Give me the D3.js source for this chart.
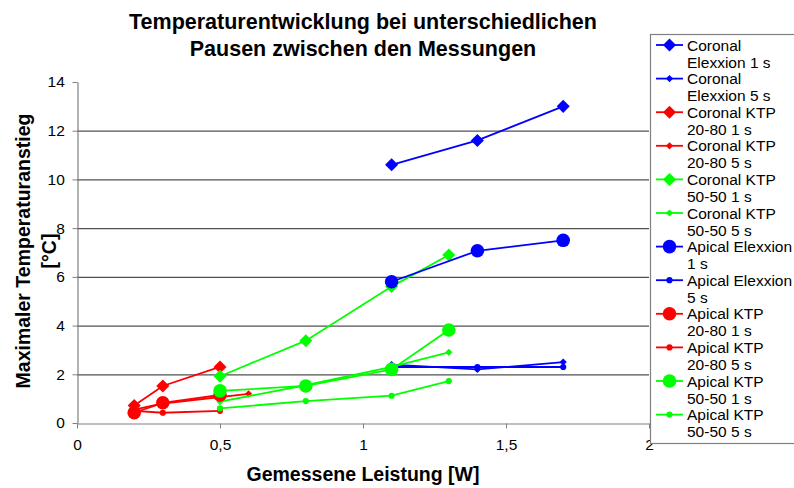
<!DOCTYPE html>
<html><head><meta charset="utf-8">
<script src="https://cdn.jsdelivr.net/npm/d3@7"></script>
<style>body{margin:0;background:#fff}svg{display:block;font-family:"Liberation Sans",Arial,sans-serif}</style>
</head><body><svg id="c" width="794" height="488"></svg>
<script>
const seriesNames = [
 ["Coronal","Elexxion 1 s"],["Coronal","Elexxion 5 s"],
 ["Coronal KTP","20-80 1 s"],["Coronal KTP","20-80 5 s"],
 ["Coronal KTP","50-50 1 s"],["Coronal KTP","50-50 5 s"],
 ["Apical Elexxion","1 s"],["Apical Elexxion","5 s"],
 ["Apical KTP","20-80 1 s"],["Apical KTP","20-80 5 s"],
 ["Apical KTP","50-50 1 s"],["Apical KTP","50-50 5 s"]
];
const seriesColors = ["#0000FF","#0000FF","#FF0000","#FF0000","#00FF00","#00FF00","#0000FF","#0000FF","#FF0000","#FF0000","#00FF00","#00FF00"];
const seriesMarkers = ["diamond","diamondS","diamond","diamondS","diamond","diamondS","circle","circleS","circle","circleS","circle","circleS"];
const xCoronalElexxion1 = [1.1,1.4,1.7], yCoronalElexxion1 = [10.6,11.6,13.0];
const xCoronalElexxion5 = [1.1,1.4,1.7], yCoronalElexxion5 = [2.4,2.2,2.5];
const xCoronalKTP2080_1 = [0.2,0.3,0.5], yCoronalKTP2080_1 = [0.72,1.52,2.3];
const xCoronalKTP2080_5 = [0.2,0.3,0.6], yCoronalKTP2080_5 = [0.55,0.8,1.2];
const xCoronalKTP5050_1 = [0.5,0.8,1.1,1.3], yCoronalKTP5050_1 = [1.92,3.38,5.6,6.9];
const xCoronalKTP5050_5 = [0.5,0.8,1.1,1.3], yCoronalKTP5050_5 = [0.88,1.55,2.3,2.9];
const xApicalElexxion1 = [1.1,1.4,1.7], yApicalElexxion1 = [5.8,7.07,7.5];
const xApicalElexxion5 = [1.1,1.4,1.7], yApicalElexxion5 = [2.3,2.3,2.3];
const xApicalKTP2080_1 = [0.2,0.3,0.5], yApicalKTP2080_1 = [0.42,0.83,1.15];
const xApicalKTP2080_5 = [0.2,0.3,0.5], yApicalKTP2080_5 = [0.5,0.42,0.5];
const xApicalKTP5050_1 = [0.5,0.8,1.1,1.3], yApicalKTP5050_1 = [1.32,1.52,2.2,3.82];
const xApicalKTP5050_5 = [0.5,0.8,1.1,1.3], yApicalKTP5050_5 = [0.6,0.9,1.12,1.72];
const xTicks = [0,0.5,1,1.5,2];
const yTicks = [0,2,4,6,8,10,12,14];
const titleLines = ["Temperaturentwicklung bei unterschiedlichen","Pausen zwischen den Messungen"];
const xTitle = "Gemessene Leistung [W]";
const yTitleLines = ["Maximaler Temperaturanstieg","[°C]"];

const xs = [xCoronalElexxion1,xCoronalElexxion5,xCoronalKTP2080_1,xCoronalKTP2080_5,xCoronalKTP5050_1,xCoronalKTP5050_5,xApicalElexxion1,xApicalElexxion5,xApicalKTP2080_1,xApicalKTP2080_5,xApicalKTP5050_1,xApicalKTP5050_5];
const ys = [yCoronalElexxion1,yCoronalElexxion5,yCoronalKTP2080_1,yCoronalKTP2080_5,yCoronalKTP5050_1,yCoronalKTP5050_5,yApicalElexxion1,yApicalElexxion5,yApicalKTP2080_1,yApicalKTP2080_5,yApicalKTP5050_1,yApicalKTP5050_5];
const series = seriesNames.map((n,i)=>({name:n,color:seriesColors[i],marker:seriesMarkers[i],pts:xs[i].map((x,j)=>[x,ys[i][j]])}));

const svg = d3.select("#c");
const L=77,R=649,T=82,B=423;
const x = d3.scaleLinear().domain([0,2]).range([L,R]);
const y = d3.scaleLinear().domain([0,14]).range([B,T]);

svg.append("g").selectAll("line").data(yTicks.filter(t=>t>0 && t<14)).join("line")
 .attr("x1",L).attr("x2",R).attr("y1",d=>y(d)+0.5).attr("y2",d=>y(d)+0.5)
 .attr("stroke","#505050").attr("stroke-width",1.2);

const fmt = d=>String(d).replace(".",",");
const gx = svg.append("g").attr("transform",`translate(0,${B+0.5})`)
 .call(d3.axisBottom(x).tickValues(xTicks).tickFormat(fmt).tickSize(5).tickSizeOuter(0));
const gy = svg.append("g").attr("transform",`translate(${L+0.5},0)`)
 .call(d3.axisLeft(y).tickValues(yTicks).tickFormat(fmt).tickSize(5).tickSizeOuter(0));
[gx,gy].forEach(g=>{g.select(".domain").attr("stroke","#808080").attr("stroke-width",1.2);
 g.selectAll(".tick line").attr("stroke","#808080");
 g.selectAll(".tick text").attr("font-size",15.5).attr("font-family","Liberation Sans, Arial, sans-serif").attr("fill","#000");});
gx.selectAll(".tick text").attr("dy","1.2em");
gy.selectAll(".tick text").attr("dx","-0.3em");

const symGen = m=>{
 if(m==="diamond") return d3.symbol(d3.symbolSquare,85)();
 if(m==="diamondS") return d3.symbol(d3.symbolSquare,26)();
 if(m==="circle") return d3.symbol(d3.symbolCircle,145)();
 return d3.symbol(d3.symbolCircle,30)();
};
const rot = m=>m.startsWith("diamond")?" rotate(45)":"";

const line = d3.line().x(d=>x(d[0])).y(d=>y(d[1]));
const gs = svg.append("g").selectAll("g").data(series).join("g");
gs.append("path").attr("d",d=>line(d.pts)).attr("fill","none").attr("stroke",d=>d.color).attr("stroke-width",1.8);
gs.each(function(s){
 d3.select(this).selectAll("path.m").data(s.pts).join("path").attr("class","m")
  .attr("d",symGen(s.marker)).attr("fill",s.color)
  .attr("transform",d=>`translate(${x(d[0])},${y(d[1])})${rot(s.marker)}`);
});

svg.append("g").selectAll("text").data(titleLines).join("text")
 .attr("x",(L+R)/2).attr("y",(d,i)=>29+i*27).attr("text-anchor","middle")
 .attr("font-size",21.5).attr("font-weight","bold").text(d=>d);
svg.append("text").attr("x",(L+R)/2).attr("y",481).attr("text-anchor","middle")
 .attr("font-size",19.5).attr("font-weight","bold").text(xTitle);
svg.append("g").attr("transform","translate(30,251) rotate(-90)").selectAll("text").data(yTitleLines).join("text")
 .attr("x",0).attr("y",(d,i)=>i*26).attr("text-anchor","middle")
 .attr("font-size",19.5).attr("font-weight","bold").text(d=>d);

const lg = svg.append("g");
lg.append("rect").attr("x",650.5).attr("y",34.5).attr("width",160).attr("height",409)
 .attr("fill","#fff").attr("stroke","#808080").attr("stroke-width",1.2);
const items = lg.selectAll("g.it").data(series).join("g").attr("class","it")
 .attr("transform",(d,i)=>`translate(0,${45+i*33.6})`);
items.append("line").attr("x1",656).attr("x2",683).attr("y1",0).attr("y2",0).attr("stroke",d=>d.color).attr("stroke-width",1.8);
items.append("path").attr("d",d=>symGen(d.marker)).attr("fill",d=>d.color)
 .attr("transform",d=>`translate(669.5,0)${rot(d.marker)}`);
items.each(function(s){
 d3.select(this).selectAll("text").data(s.name).join("text")
  .attr("x",687).attr("y",(d,i)=>5.5+i*17).attr("font-size",15.5).text(d=>d);
});
</script></body></html>
